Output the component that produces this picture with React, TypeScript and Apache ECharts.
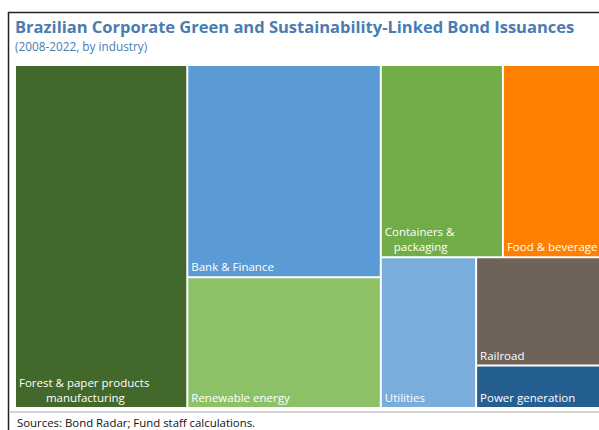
import React, { useEffect, useRef } from "react";
import * as echarts from "echarts";

// Share of issuance by industry (%), read from rectangle areas
const categories = [
  "Forest & paper products manufacturing",
  "Bank & Finance",
  "Renewable energy",
  "Containers & packaging",
  "Food & beverage",
  "Utilities",
  "Railroad",
  "Power generation",
];
const values = [29.2, 20.3, 12.5, 11.6, 9.7, 7.1, 6.9, 2.7];
const NB = "\u00a0";
const labelLines: Record<string, string[]> = {
  "Forest & paper products manufacturing": ["Forest & paper products", NB.repeat(9) + "manufacturing"],
  "Containers & packaging": ["Containers &", NB.repeat(3) + "packaging"],
};
const colors = [
  "#43682b",
  "#5b9bd5",
  "#8cc168",
  "#70ad47",
  "#ff8000",
  "#7aaddc",
  "#6e6259",
  "#255e91",
];

const titleText = "Brazilian Corporate Green and Sustainability-Linked Bond Issuances";
const subtitleText = "(2008-2022, by industry)";
const sourceText = "Sources: Bond Radar; Fund staff calculations.";

const FONT = "'Open Sans', 'Noto Sans', sans-serif";

export default function App() {
  const ref = useRef<HTMLDivElement>(null);
  useEffect(() => {
    if (!ref.current) return;
    const chart = echarts.init(ref.current, null, { renderer: "svg" });
    const data = categories.map((name, i) => ({
      name,
      value: values[i],
      itemStyle: { color: colors[i] },
    }));
    chart.setOption({
      animation: false,
      backgroundColor: "#ffffff",
      title: [
        {
          text: titleText,
          left: 15,
          top: 18,
          padding: 0,
          textStyle: { color: "#4a7cb2", fontSize: 16.5, fontWeight: "bold", fontFamily: FONT },
        },
        {
          text: subtitleText,
          left: 15,
          top: 40,
          padding: 0,
          textStyle: { color: "#4a7cb2", fontSize: 11.8, fontWeight: "normal", fontFamily: FONT },
        },
        {
          text: sourceText,
          left: 17,
          top: 416.5,
          padding: 0,
          textStyle: { color: "#111", fontSize: 11.4, fontWeight: "normal", fontFamily: FONT },
        },
      ],
      graphic: [
        { type: "line", shape: { x1: 8, y1: 12.5, x2: 599, y2: 12.5 }, style: { stroke: "#222", lineWidth: 1.5 } },
        { type: "line", shape: { x1: 8.5, y1: 12, x2: 8.5, y2: 430 }, style: { stroke: "#222", lineWidth: 1.5 } },
        { type: "line", shape: { x1: 9, y1: 412, x2: 599, y2: 412 }, style: { stroke: "#c8c8c8", lineWidth: 1.5 } },
      ],
      series: [
        {
          type: "treemap",
          left: 16,
          top: 66,
          width: 588,
          height: 341,
          squareRatio: 1,
          roam: false,
          nodeClick: false,
          breadcrumb: { show: false },
          itemStyle: { borderWidth: 0, gapWidth: 2, borderColor: "#fff" },
          emphasis: { disabled: true },
          label: {
            show: true,
            position: "insideBottomLeft",
            distance: 2,
            padding: [0, 0, 0, 1],
            overflow: "none",
            color: "#ffffff",
            fontSize: 11.5,
            fontFamily: FONT,
            lineHeight: 15,
            formatter: (p: any) => {
              const lines = labelLines[p.name] || [p.name];
              return lines.join("\n");
            },
          },
          upperLabel: { show: false },
          data,
        },
      ],
    });
    return () => chart.dispose();
  }, []);
  return (
    <div
      ref={ref}
      style={{ position: "fixed", left: 0, top: 0, width: 599, height: 430 }}
    />
  );
}
